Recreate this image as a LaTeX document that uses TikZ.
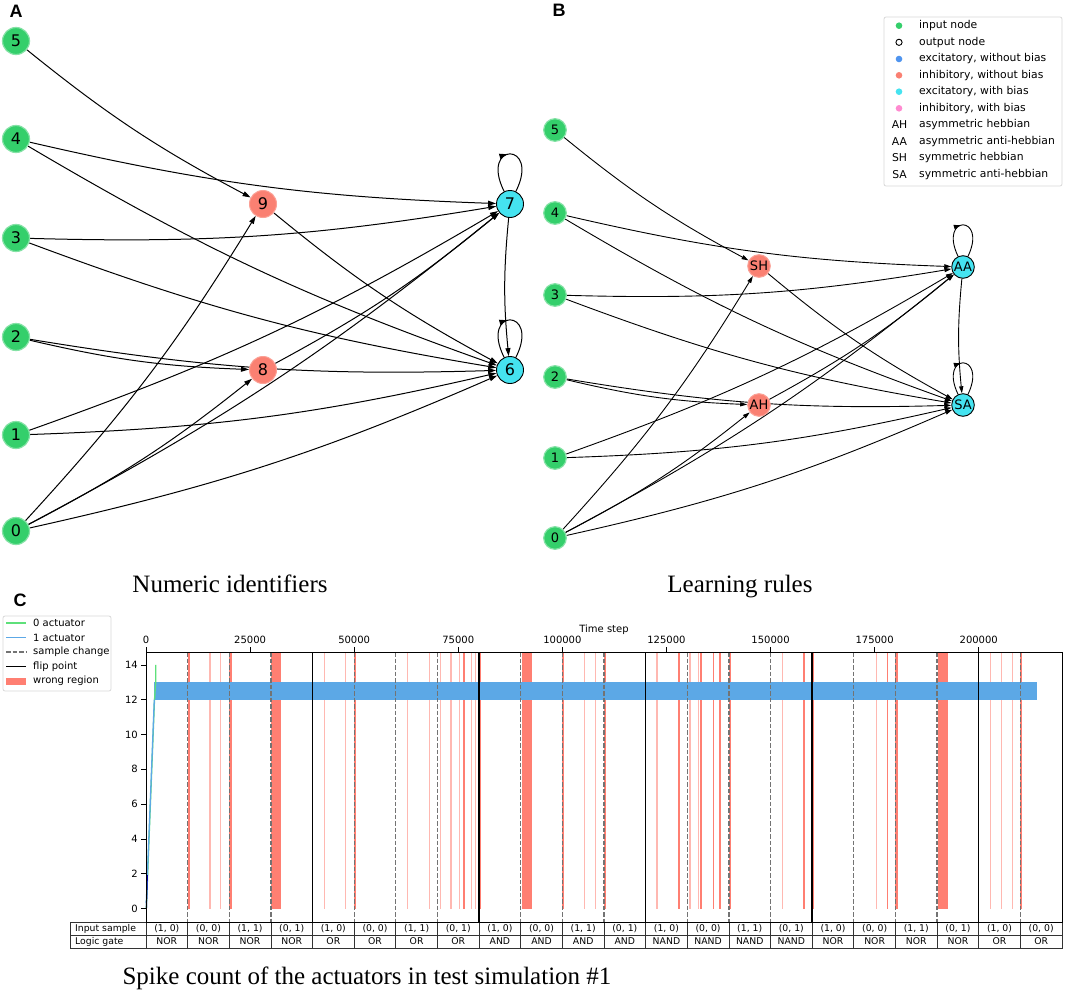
\documentclass[tikz,border=0pt]{standalone}
\usepackage{fontspec}
\setmainfont{DejaVu Sans}
\newfontfamily\lsb{Liberation Sans}
\newfontfamily\lser{Liberation Serif}
\usetikzlibrary{arrows.meta,decorations.markings}
\pgfdeclarelayer{bg}
\pgfsetlayers{bg,main}
\definecolor{ingreen}{HTML}{34CF6B}
\definecolor{hidred}{HTML}{FA8072}
\definecolor{outcyan}{HTML}{45E3F0}
\definecolor{exblue}{HTML}{4F94EF}
\definecolor{inpink}{HTML}{FF8AD0}
\definecolor{barblue}{HTML}{5CA8E6}
\definecolor{actgreen}{HTML}{5EE07A}
\definecolor{wrongred}{HTML}{FF7F72}
\newcommand{\fs}[1]{\fontsize{#1}{#1}\selectfont}
\newcommand{\wrongS}[2]{\fill[wrongred] (#1,652.5) rectangle (#2,908.5);}
\newcommand{\wrongL}[1]{\fill[wrongred,opacity=0.55] (#1,652.5) rectangle ({#1+0.3},908.5);}
\tikzset{
  nodeA/.style={circle, minimum size=27pt, inner sep=0pt, font=\fs{16}},
  nodeB/.style={circle, minimum size=22.6pt, inner sep=0pt, font=\fs{13}},
  innode/.style={fill=ingreen, draw=ingreen!60!white, line width=1.2pt},
  hidnode/.style={fill=hidred, draw=hidred!75!white, line width=1pt},
  outnode/.style={fill=outcyan, draw=black, line width=0.9pt},
  edgeA/.style={line width=1pt, -{Triangle[length=8pt,width=5pt]}},
  edgeB/.style={line width=0.9pt, -{Triangle[length=7pt,width=4.2pt]}},
  loopA/.style={line width=1pt, postaction={decorate}, decoration={markings, mark=at position 0.47 with {\arrow{Triangle[length=8pt,width=5pt]}}}},
  loopB/.style={line width=0.9pt, postaction={decorate}, decoration={markings, mark=at position 0.47 with {\arrow{Triangle[length=7pt,width=4.2pt]}}}},
  legtxt/.style={anchor=west, inner sep=0pt, font=\fs{10.8}},
  legtxtC/.style={anchor=west, inner sep=0pt, font=\fs{10}},
  ticktxt/.style={inner sep=0pt, font=\fs{10}},
  tabtxt/.style={inner sep=0pt, font=\fs{9.3}},
  panel/.style={inner sep=0pt, font=\lsb\bfseries\fs{18}},
  caption/.style={inner sep=0pt, anchor=base, font=\lser\fs{25}},
  flipline/.style={black, line width=1.4pt},
  sampleline/.style={black!55, line width=1.3pt, dash pattern=on 4.5pt off 2pt},
}
\begin{document}
\begin{tikzpicture}[x=1pt,y=-1pt]
\useasboundingbox (0,0) rectangle (1065,998);
\begin{pgfonlayer}{bg}
\fill[white] (0,0) rectangle (1065,998);
\end{pgfonlayer}

% ---------------- Panel A ----------------
\node[panel] (lA) at (16,11) {A};
\node[nodeA,innode] (a5) at (16,41) {5};
\node[nodeA,innode] (a4) at (16,139) {4};
\node[nodeA,innode] (a3) at (16,238) {3};
\node[nodeA,innode] (a2) at (16,337) {2};
\node[nodeA,innode] (a1) at (16,435) {1};
\node[nodeA,innode] (a0) at (16,531) {0};
\node[nodeA,hidnode] (a9) at (263,204) {9};
\node[nodeA,hidnode] (a8) at (263,370) {8};
\node[nodeA,outnode] (a7) at (510,204) {7};
\node[nodeA,outnode] (a6) at (510,370) {6};
\begin{pgfonlayer}{bg}
\foreach \s/\t in {a5/a9,a4/a7,a4/a6,a3/a7,a3/a6,a2/a8,a2/a6,a1/a7,a1/a6,a0/a9,a0/a8,a0/a7,a0/a6,a8/a7,a9/a6,a7/a6}
  \draw[edgeA] (\s) to[bend right=5.5] (\t);
\draw[loopA] (a7.115) .. controls +(-25,-50) and +(25,-50) .. (a7.65);
\draw[loopA] (a6.115) .. controls +(-25,-50) and +(25,-50) .. (a6.65);
\end{pgfonlayer}
\node[caption] (capA) at (230,592) {Numeric identifiers};

% ---------------- Panel B ----------------
\node[panel] (lB) at (559,10) {B};
\node[nodeB,innode] (b5) at (555,130) {5};
\node[nodeB,innode] (b4) at (555,213) {4};
\node[nodeB,innode] (b3) at (555,295) {3};
\node[nodeB,innode] (b2) at (555,377) {2};
\node[nodeB,innode] (b1) at (555,458) {1};
\node[nodeB,innode] (b0) at (555,538) {0};
\node[nodeB,hidnode] (bSH) at (759,266) {SH};
\node[nodeB,hidnode] (bAH) at (759,405) {AH};
\node[nodeB,outnode] (bAA) at (963,267) {AA};
\node[nodeB,outnode] (bSA) at (963,405) {SA};
\begin{pgfonlayer}{bg}
\foreach \s/\t in {b5/bSH,b4/bAA,b4/bSA,b3/bAA,b3/bSA,b2/bAH,b2/bSA,b1/bAA,b1/bSA,b0/bSH,b0/bAH,b0/bAA,b0/bSA,bAH/bAA,bSH/bSA,bAA/bSA}
  \draw[edgeB] (\s) to[bend right=5.5] (\t);
\draw[loopB] (bAA.115) .. controls +(-20,-42) and +(20,-42) .. (bAA.65);
\draw[loopB] (bSA.115) .. controls +(-20,-42) and +(20,-42) .. (bSA.65);
\end{pgfonlayer}
\node[caption] (capB) at (740,592) {Learning rules};

% legend B
\draw[rounded corners=2pt, draw=black!15, fill=white, line width=0.8pt] (884,17) rectangle (1062,186);
\fill[ingreen] (899,25.7) circle (3.3);
\draw[black, line width=0.9pt] (899,42.3) circle (3.1);
\fill[exblue] (899,59) circle (3.3);
\fill[hidred] (899,75.3) circle (3.3);
\fill[outcyan] (899,91.7) circle (3.3);
\fill[inpink] (899,108.3) circle (3.3);
\node[inner sep=0pt, font=\fs{10.8}] (kAH) at (899.5,125) {AH};
\node[inner sep=0pt, font=\fs{10.8}] (kAA) at (899.5,141.7) {AA};
\node[inner sep=0pt, font=\fs{10.8}] (kSH) at (899.5,158) {SH};
\node[inner sep=0pt, font=\fs{10.8}] (kSA) at (899.5,174.3) {SA};
\node[legtxt] (t1) at (919,25.7) {input node};
\node[legtxt] (t2) at (919,42.3) {output node};
\node[legtxt] (t3) at (919,59) {excitatory, without bias};
\node[legtxt] (t4) at (919,75.3) {inhibitory, without bias};
\node[legtxt] (t5) at (919,91.7) {excitatory, with bias};
\node[legtxt] (t6) at (919,108.3) {inhibitory, with bias};
\node[legtxt] (t7) at (919,125) {asymmetric hebbian};
\node[legtxt] (t8) at (919,141.7) {asymmetric anti-hebbian};
\node[legtxt] (t9) at (919,158) {symmetric hebbian};
\node[legtxt] (t10) at (919,174.3) {symmetric anti-hebbian};

% ---------------- Panel C ----------------
\node[panel] (lC) at (20,600) {C};
\begin{scope}[shift={(146pt,0pt)}, x=4.1636pt]
  \wrongS{10.0}{10.5}
  \wrongS{20.0}{20.7}
  \wrongS{30.0}{32.5}
  \wrongS{50.0}{50.5}
  \wrongS{76.1}{76.5}
  \wrongS{80.0}{80.4}
  \wrongS{90.2}{92.6}
  \wrongS{100.0}{100.3}
  \wrongS{110.0}{110.5}
  \wrongS{127.8}{128.2}
  \wrongS{133.1}{133.5}
  \wrongS{136.1}{136.5}
  \wrongS{137.7}{138.1}
  \wrongS{140.0}{140.5}
  \wrongS{157.9}{158.3}
  \wrongS{160.0}{160.5}
  \wrongS{177.9}{178.3}
  \wrongS{180.0}{180.5}
  \wrongS{190.3}{192.6}
  \wrongS{210.0}{210.5}
  \foreach \p in {15.2,17.8,42.7,47.7,62.7,67.9,70.6,73.1,75.1,78.0,79.0,105.2,107.8,122.6,130.5,132.6,152.7,175.3,202.7,205.3,208.0}
    {\wrongL{\p}}
  \fill[barblue] (2.0,682.3) rectangle (214.0,699.7);
\end{scope}
\draw[actgreen, line width=1.3pt] (146.3,908.5) -- (154.5,699.7) -- (155.7,682) -- (155.7,664.9);
\draw[barblue, line width=1.3pt] (146.3,903) -- (154.3,699.7);
\draw[blue!70!black, line width=1.2pt] (146.4,908) -- (147.3,875);
\begin{scope}[shift={(146pt,0pt)}, x=4.1636pt]
  \foreach \k in {10,20,30,50,60,70,90,100,110,130,140,150,170,180,190,210}
    \draw[sampleline] (\k,652) -- (\k,922);
  \foreach \k in {40,80,120,160,200}
    \draw[flipline] (\k,652) -- (\k,922);
  \foreach \k/\lab in {0/0,25/25000,50/50000,75/75000,100/100000,125/125000,150/150000,175/175000,200/200000}
    {\draw[line width=0.8pt] (\k,652) -- (\k,647);
     \node[ticktxt, anchor=base] (xt\k) at (\k,643.7) {\lab};}
  \node[ticktxt, anchor=base] (xlab) at (110,632) {Time step};
  \draw[line width=0.8pt, black!80] (-18.253,922) rectangle (220,948);
  \draw[line width=0.8pt, black!80] (-18.253,935) -- (220,935);
  \foreach \k in {0,...,21}
    \draw[line width=0.8pt, black!80] ({\k*10},922) -- ({\k*10},948);
  \foreach \g [count=\i from 0] in {NOR,NOR,NOR,NOR,OR,OR,OR,OR,AND,AND,AND,AND,NAND,NAND,NAND,NAND,NOR,NOR,NOR,NOR,OR,OR}
    {\pgfmathtruncatemacro\m{mod(\i,4)}
     \node[tabtxt] (is\i) at ({\i*10+5},928.5) {\ifcase\m (1, 0)\or (0, 0)\or (1, 1)\or (0, 1)\fi};
     \node[tabtxt] (lg\i) at ({\i*10+5},941.5) {\g};}
\end{scope}
\node[tabtxt, anchor=west] (rowA) at (75,928.5) {Input sample};
\node[tabtxt, anchor=west] (rowB) at (75,941.5) {Logic gate};
\draw[line width=0.9pt] (146,652) rectangle (1062,922);
\foreach \v in {0,2,4,6,8,10,12,14}
  {\draw[line width=0.8pt] (146,{908.5-\v*17.4}) -- (141,{908.5-\v*17.4});
   \node[ticktxt, anchor=east] (yt\v) at (138,{908.5-\v*17.4}) {\v};}
\draw[rounded corners=2pt, draw=black!15, fill=white, line width=0.8pt] (3,616) rectangle (111,691);
\draw[actgreen, line width=1.3pt] (6,623) -- (26,623);
\draw[barblue, line width=1.3pt] (6,637.5) -- (26,637.5);
\draw[sampleline] (6,652) -- (26,652);
\draw[flipline] (6,666.5) -- (26,666.5);
\fill[wrongred] (6,677.5) rectangle (26,684.5);
\node[legtxtC] (c1) at (33,623) {0 actuator};
\node[legtxtC] (c2) at (33,637.5) {1 actuator};
\node[legtxtC] (c3) at (33,652) {sample change};
\node[legtxtC] (c4) at (33,666.5) {flip point};
\node[legtxtC] (c5) at (33,681) {wrong region};
\node[caption] (capC) at (367,984) {Spike count of the actuators in test simulation \#1};
\end{tikzpicture}
\end{document}
